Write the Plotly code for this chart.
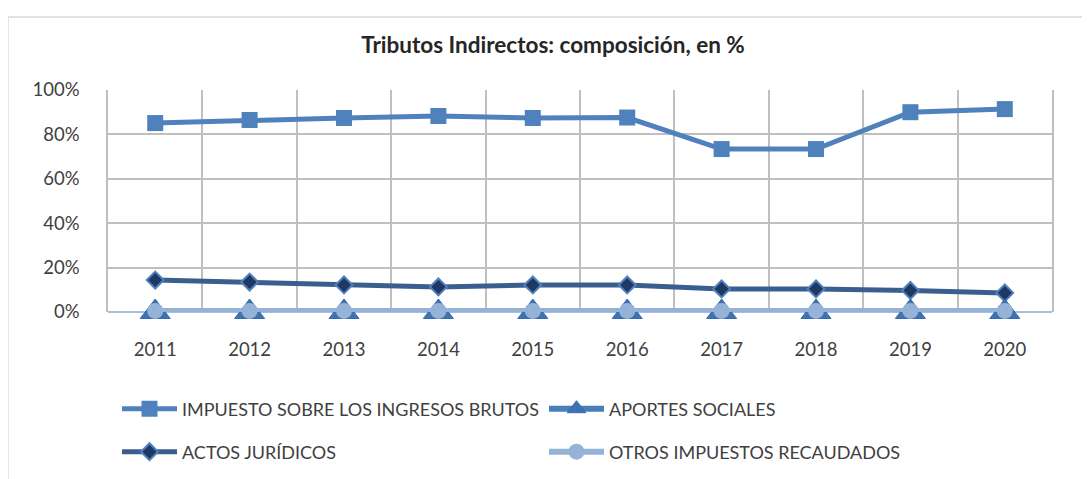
import plotly.graph_objects as go

years = ["2011", "2012", "2013", "2014", "2015", "2016", "2017", "2018", "2019", "2020"]
iib = [85.1, 86.5, 87.4, 88.3, 87.4, 87.6, 73.4, 73.4, 90.0, 91.4]
aportes = [0.0, 0.0, 0.0, 0.0, 0.0, 0.0, 0.0, 0.0, 0.0, 0.0]
actos = [14.4, 13.5, 12.2, 11.3, 12.2, 12.2, 10.4, 10.4, 9.7, 8.6]
otros = [0.5, 0.5, 0.5, 0.5, 0.5, 0.5, 0.5, 0.5, 0.5, 0.5]
title = "Tributos Indirectos: composición, en %"

FONT = "Lato"
W, H = 1082, 471
fig = go.Figure()
fig.add_trace(go.Scatter(x=years, y=iib, name="IMPUESTO SOBRE LOS INGRESOS BRUTOS",
                         mode="lines+markers", line=dict(color="#4f81bd", width=5),
                         marker=dict(symbol="square", size=16, color="#4f81bd"),
                         legend="legend", legendrank=1, cliponaxis=False))
fig.add_trace(go.Scatter(x=years, y=actos, name="ACTOS JURÍDICOS",
                         mode="lines+markers", line=dict(color="#3a5f8f", width=5),
                         marker=dict(symbol="diamond", size=13, color="#1f3864",
                                     line=dict(color="#4f81bd", width=2)),
                         legend="legend2", legendrank=3, cliponaxis=False))
fig.add_trace(go.Scatter(x=years, y=aportes, name="APORTES SOCIALES",
                         mode="lines+markers", line=dict(color="#4a7ebb", width=6),
                         marker=dict(symbol="triangle-up", size=26, color="#3f72b5",
                                     line=dict(color="#3a68a8", width=1)),
                         legend="legend", legendrank=2, cliponaxis=False))
fig.add_trace(go.Scatter(x=years, y=otros, name="OTROS IMPUESTOS RECAUDADOS",
                         mode="lines+markers", line=dict(color="#95b3d7", width=6),
                         marker=dict(symbol="circle", size=16, color="#95b3d7"),
                         legend="legend2", legendrank=4, cliponaxis=False))

leg_common = dict(orientation="h", xanchor="left", yanchor="middle",
                  xref="container", yref="container",
                  font=dict(family=FONT, size=18, color="#404040"),
                  entrywidth=357, entrywidthmode="pixels", itemwidth=55,
                  bgcolor="rgba(0,0,0,0)", traceorder="normal")
fig.update_layout(
    width=W, height=H,
    margin=dict(l=100, r=38, t=82, b=167),
    paper_bgcolor="white", plot_bgcolor="white",
    title=dict(text="<b>" + title + "</b>", x=545 / W, xanchor="center",
               y=1 - 37 / H, yanchor="middle",
               font=dict(family=FONT, size=22.5, color="#262626")),
    xaxis=dict(type="category", range=[-0.5, 9.5], tickson="boundaries", showgrid=True,
               gridcolor="#bfbfbf", gridwidth=1.5, showline=False, zeroline=False,
               ticks="", automargin=False,
               tickfont=dict(family=FONT, size=18.5, color="#404040"),
               ticklabelstandoff=24),
    yaxis=dict(range=[0, 100], tickvals=[0, 20, 40, 60, 80, 100],
               ticktext=["0%", "20%", "40%", "60%", "80%", "100%"], automargin=False,
               showgrid=True, gridcolor="#bfbfbf", gridwidth=1.5, zeroline=False,
               showline=True, linecolor="#bfbfbf", linewidth=1.5, mirror=True,
               ticks="", ticklabelstandoff=23,
               tickfont=dict(family=FONT, size=18.5, color="#404040")),
    legend=dict(x=109 / W, y=1 - 401 / H, **leg_common),
    legend2=dict(x=109 / W, y=1 - 444 / H, **leg_common),
    showlegend=True,
    shapes=[
        dict(type="rect", xref="paper", yref="paper", x0=-0.106, x1=1.05, y0=-0.85, y1=1.329,
             line=dict(color="#d9d9d9", width=1.5), layer="below"),
        dict(type="line", xref="paper", yref="paper", x0=0, x1=1, y0=0, y1=0,
             line=dict(color="#a6bfdf", width=2), layer="below"),
    ],
)
fig.write_html("out.html")
